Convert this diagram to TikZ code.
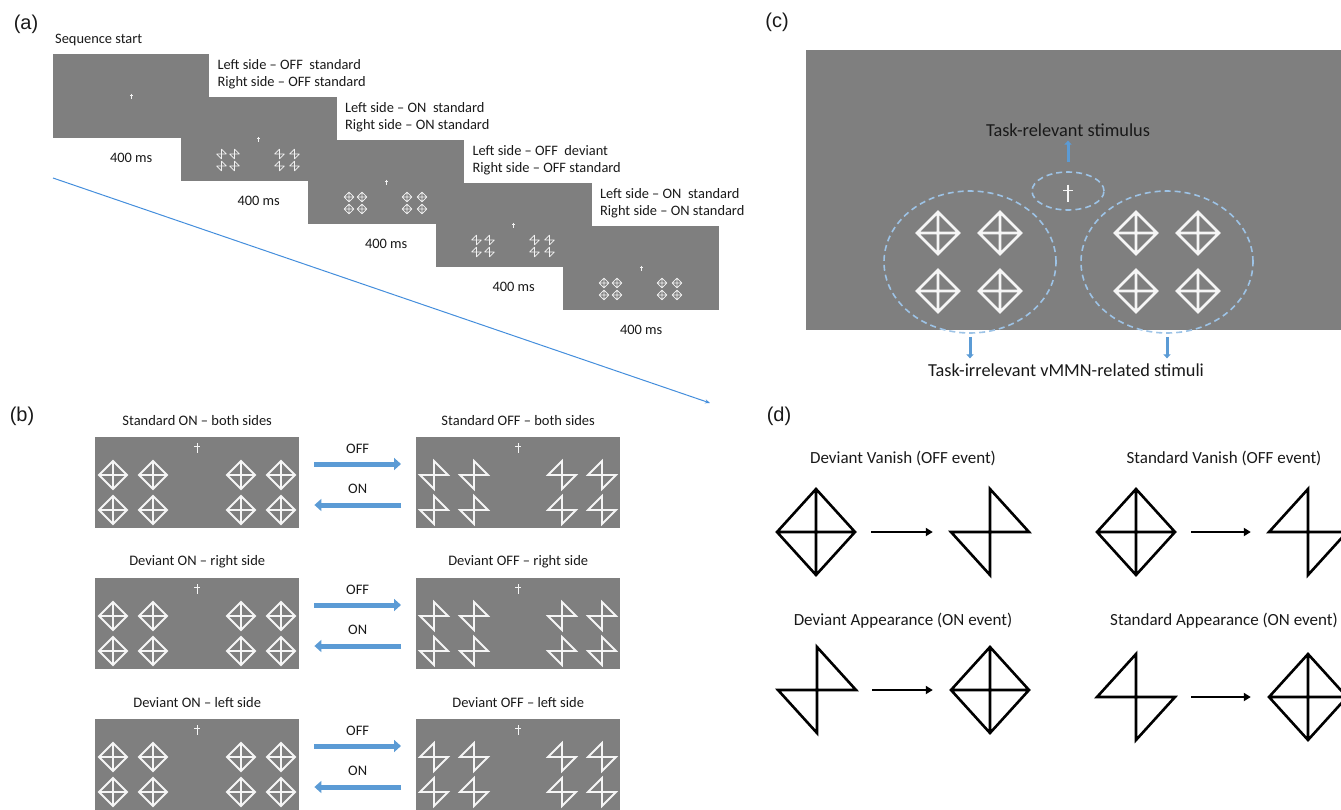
\documentclass[tikz,border=0pt]{standalone}
\usepackage{fontspec}
\setmainfont{Carlito}
\newfontfamily\labelfont{Liberation Sans}
\usetikzlibrary{arrows.meta, positioning, shapes.geometric}
\definecolor{scrgray}{RGB}{127,127,127}
\definecolor{offblue}{RGB}{91,155,213}
\definecolor{ringblue}{RGB}{157,195,230}
\definecolor{lineblue}{RGB}{68,142,220}
\definecolor{txtgray}{RGB}{25,25,25}

% 0 = full diamond, 1 = upper-right/lower-left half, 2 = upper-left/lower-right half
\tikzset{
  fig/.pic={
    \ifcase#1
      \draw[pic actions] (-1,0)--(0,-1)--(1,0)--(0,1)--cycle (-1,0)--(1,0) (0,-1)--(0,1);
    \or
      \draw[pic actions] (1,0)--(0,-1)--(0,1)--(-1,0)--cycle;
    \or
      \draw[pic actions] (-1,0)--(0,-1)--(0,1)--(1,0)--cycle;
    \fi
  },
  fixc/.pic={\draw[pic actions] (-0.55,-0.3)--(0.55,-0.3) (0,-1)--(0,1);}
}

\begin{document}
\begin{tikzpicture}[
    x=1pt, y=-1pt,
    scrA/.style={rectangle, fill=scrgray, anchor=north west, minimum width=156pt, minimum height=84pt, inner sep=0pt},
    scrB/.style={rectangle, fill=scrgray, anchor=north west, minimum width=204pt, minimum height=91pt, inner sep=0pt},
    txta/.style={font=\fontsize{14.4}{17}\selectfont, text=txtgray, inner sep=0pt},
    txtb/.style={font=\fontsize{14.5}{17}\selectfont, text=txtgray, inner sep=0pt},
    txtc/.style={font=\fontsize{18.3}{21}\selectfont, text=txtgray, inner sep=0pt},
    txtd/.style={font=\fontsize{17}{20}\selectfont, text=txtgray, inner sep=0pt},
    plabel/.style={font=\labelfont\fontsize{20}{24}\selectfont, text=txtgray, inner sep=0pt},
    tinyw/.style={draw=white!90!gray, line width=0.7pt, line join=round, scale=4.8},
    shpw/.style={draw=white!92!gray, line width=1.8pt, scale=14},
    bigw/.style={draw=white!92!gray, line width=2.6pt, scale=21},
    shpk/.style={draw=black, line width=2.6pt, xscale=39, yscale=43},
    slot/.style={rectangle, minimum width=78pt, minimum height=86pt, inner sep=0pt},
    ring/.style={ellipse, draw=ringblue, line width=1.6pt, dash pattern=on 6pt off 4pt, inner sep=0pt},
    barrow/.style={draw=offblue, line width=5pt, -{Triangle[length=7pt,width=12pt]}, shorten <=15pt, shorten >=15pt},
    carrow/.style={draw=offblue, line width=3pt, -{Triangle[length=4pt,width=7pt]}},
    darrow/.style={draw=black, line width=2pt, -{Triangle[length=7pt,width=8pt]}, shorten <=16pt, shorten >=18pt}
]
\useasboundingbox (0,0) rectangle (1341,809);
\clip (0,0) rectangle (1341,809);

% (a) sequence of screens
\node[plabel] at (26,24) {(a)};
\node[txta, anchor=west] at (55,40) {Sequence start};
\foreach \k/\tyL/\tyR in {0/9/9, 1/1/2, 2/0/0, 3/2/2, 4/0/0}{
  \node[scrA] (a\k) at ({53+127.5*\k},{54+43*\k}) {};
  \pic[draw=white!90!gray, line width=0.6pt, scale=2.6] at (a\k.center) {fixc};
  \foreach \dx in {41,54}
    \foreach \dy in {57,69}
      \pic[tinyw] at ([xshift=\dx pt,yshift=-\dy pt]a\k.north west) {fig=\tyL};
  \foreach \dx in {99,114}
    \foreach \dy in {57,69}
      \pic[tinyw] at ([xshift=\dx pt,yshift=-\dy pt]a\k.north west) {fig=\tyR};
  \node[txta] at ([yshift=-19pt]a\k.south) {400 ms};
}
\node[txta, align=left, anchor=west] at ([xshift=8pt,yshift=-20.5pt]a0.north east) {Left side – OFF\ \ standard\\Right side – OFF standard};
\node[txta, align=left, anchor=west] at ([xshift=8pt,yshift=-20.5pt]a1.north east) {Left side – ON\ \ standard\\Right side – ON standard};
\node[txta, align=left, anchor=west] at ([xshift=8pt,yshift=-20.5pt]a2.north east) {Left side – OFF\ \ deviant\\Right side – OFF standard};
\node[txta, align=left, anchor=west] at ([xshift=8pt,yshift=-20.5pt]a3.north east) {Left side – ON\ \ standard\\Right side – ON standard};

\coordinate (lnA) at (53,178);
\coordinate (lnB) at (710,403);
\draw[lineblue, line width=1pt, -{Stealth[length=5pt,width=4pt]}] (lnA) -- (lnB);

% (b) ON / OFF pairs
\node[plabel] at (22,416) {(b)};
\foreach \rw/\ltitle/\rtitle/\tyL/\tyR in {0/Standard ON – both sides/Standard OFF – both sides/1/2, 1/Deviant ON – right side/Deviant OFF – right side/1/1, 2/Deviant ON – left side/Deviant OFF – left side/2/2}{
  \node[scrB] (bl\rw) at (95,{437+141*\rw}) {};
  \node[scrB] (br\rw) at (416,{437+141*\rw}) {};
  \node[txtb] at ([yshift=16pt]bl\rw.north) {\ltitle};
  \node[txtb] at ([yshift=16pt]br\rw.north) {\rtitle};
  \pic[draw=white!92!gray, line width=1pt, scale=5] at ([xshift=102pt,yshift=-11pt]bl\rw.north west) {fixc};
  \pic[draw=white!92!gray, line width=1pt, scale=5] at ([xshift=102pt,yshift=-11pt]br\rw.north west) {fixc};
  \foreach \dx in {18,58,146,186}
    \foreach \dy in {38,73}
      \pic[shpw] at ([xshift=\dx pt,yshift=-\dy pt]bl\rw.north west) {fig=0};
  \foreach \dx in {18,58}
    \foreach \dy in {38,73}
      \pic[shpw] at ([xshift=\dx pt,yshift=-\dy pt]br\rw.north west) {fig=\tyL};
  \foreach \dx in {146,186}
    \foreach \dy in {38,73}
      \pic[shpw] at ([xshift=\dx pt,yshift=-\dy pt]br\rw.north west) {fig=\tyR};
  \draw[barrow] ([yshift=-27pt]bl\rw.north east) -- node[txtb, midway, yshift=15pt] {OFF} ([yshift=-27pt]br\rw.north west);
  \draw[barrow] ([yshift=-68pt]br\rw.north west) -- node[txtb, midway, yshift=16pt] {ON} ([yshift=-68pt]bl\rw.north east);
}

% (c) stimulus display
\node[plabel] at (777,22) {(c)};
\node[rectangle, fill=scrgray, anchor=north west, minimum width=540pt, minimum height=280pt, inner sep=0pt] (cs) at (806,50) {};
\node[ring, minimum width=72pt, minimum height=38pt] (relring) at (1068,191) {};
\node[ring, minimum width=172pt, minimum height=142pt] (irrL) at (970,262) {};
\node[ring, minimum width=172pt, minimum height=142pt] (irrR) at (1167,262) {};
\pic[draw=white!92!gray, line width=1.5pt, scale=8.5] at (1068,193) {fixc};
\foreach \px in {938,1000,1136,1198}
  \foreach \py in {233,291}
    \pic[bigw] at (\px,\py) {fig=0};
\node[txtc] (reltxt) at (1068,130) {Task-relevant stimulus};
\node[txtc] (irrtxt) at (1066,370) {Task-irrelevant vMMN-related stimuli};
\draw[carrow, shorten <=9pt, shorten >=4pt] (relring.north) -- (relring.north |- reltxt.south);
\draw[carrow, shorten <=3pt, shorten >=5pt] (irrL.south) -- (irrL.south |- irrtxt.north);
\draw[carrow, shorten <=3pt, shorten >=5pt] (irrR.south) -- (irrR.south |- irrtxt.north);

% (d) ON and OFF events
\node[plabel] at (779,416) {(d)};
\node[txtd] at (903,458) {Deviant Vanish (OFF event)};
\node[txtd] at (1224,458) {Standard Vanish (OFF event)};
\node[txtd] at (903,621) {Deviant Appearance (ON event)};
\node[txtd] at (1224,621) {Standard Appearance (ON event)};
\foreach \nm/\px/\py/\ty in {dv1/816/532/0, dv2/990/532/1, sv1/1136/532/0, sv2/1308/532/2, da1/817/690/1, da2/990/690/0, sa1/1136/697/2, sa2/1308/697/0}{
  \node[slot] (\nm) at (\px,\py) {};
  \pic[shpk] at (\nm) {fig=\ty};
}
\draw[darrow] (dv1) -- (dv2);
\draw[darrow] (sv1) -- (sv2);
\draw[darrow] (da1) -- (da2);
\draw[darrow] (sa1) -- (sa2);

\end{tikzpicture}
\end{document}
